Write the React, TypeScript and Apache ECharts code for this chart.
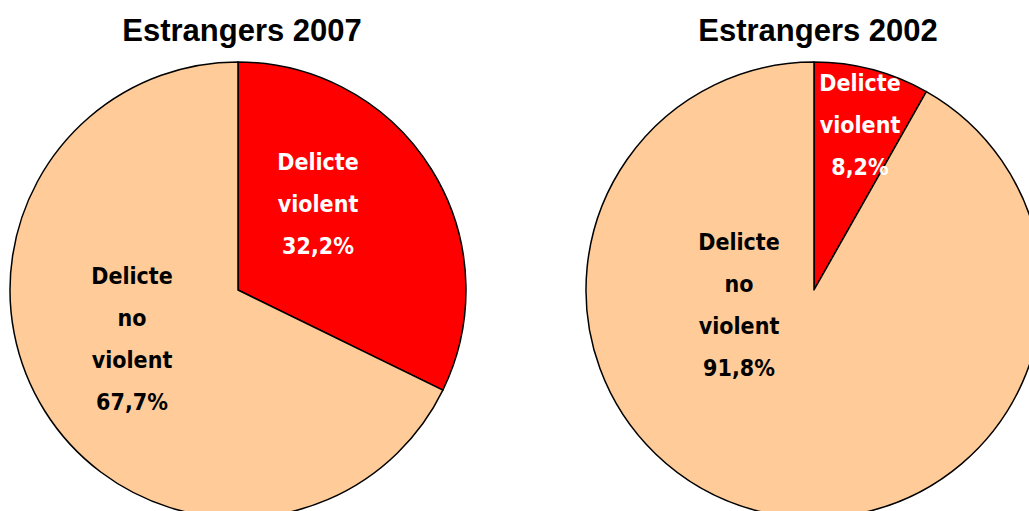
import React, { useEffect, useRef } from "react";
import * as echarts from "echarts";

const categories = ["Delicte violent", "Delicte no violent"];
const titles = ["Estrangers 2007", "Estrangers 2002"];
const values2007 = [32.2, 67.7];
const values2002 = [8.2, 91.8];
const labelLines = [
  ["Delicte", "violent"],
  ["Delicte", "no", "violent"],
];

const colors = ["#FF0000", "#FFCC99"];
const labelColors = ["#FFFFFF", "#000000"];
// label block centres (pixels) per pie, per slice
const labelPos = [
  [[318, 204], [132, 339]],
  [[860, 125], [739, 305]],
];
const centers = [[238, 290], [814, 290]];
const titleX = [237, 813];
const fmt = (v: number) => v.toFixed(1).replace(".", ",") + "%";

export default function App() {
  const ref = useRef<HTMLDivElement>(null);
  useEffect(() => {
    if (!ref.current) return;
    const chart = echarts.init(ref.current, null, { renderer: "svg" });
    const datasets = [values2007, values2002];
    const series = datasets.map((vals, p) => ({
      type: "pie",
      center: centers[p],
      radius: 228,
      startAngle: 90,
      clockwise: true,
      silent: true,
      data: vals.map((v, i) => ({
        name: categories[i],
        value: v,
        itemStyle: { color: colors[i] },
        label: {
          color: labelColors[i],
          formatter: () => [...labelLines[i], fmt(v)].join("\n"),
        },
      })),
      itemStyle: { borderColor: "#000", borderWidth: 1.5 },
      label: {
        show: true,
        position: "inside",
        fontFamily: "'Liberation Sans Narrow', 'DejaVu Sans Condensed', 'Liberation Sans', sans-serif",
        fontWeight: "bold",
        fontSize: 23,
        lineHeight: 42,
        align: "center",
      },
      labelLine: { show: false },
      labelLayout: (params: any) => ({
        x: labelPos[p][params.dataIndex][0],
        y: labelPos[p][params.dataIndex][1],
        align: "center",
        verticalAlign: "middle",
      }),
    }));
    chart.setOption({
      animation: false,
      title: titles.map((t, i) => ({
        text: t,
        left: titleX[i],
        top: 10,
        textAlign: "center",
        textStyle: {
          fontFamily: "'Liberation Sans', Arial, sans-serif",
          fontWeight: "bold",
          fontSize: 31,
          color: "#000",
        },
      })),
      series,
    });
    return () => chart.dispose();
  }, []);
  return (
    <div
      ref={ref}
      style={{ position: "fixed", left: 0, top: 0, width: 1029, height: 511, background: "#fff" }}
    />
  );
}
